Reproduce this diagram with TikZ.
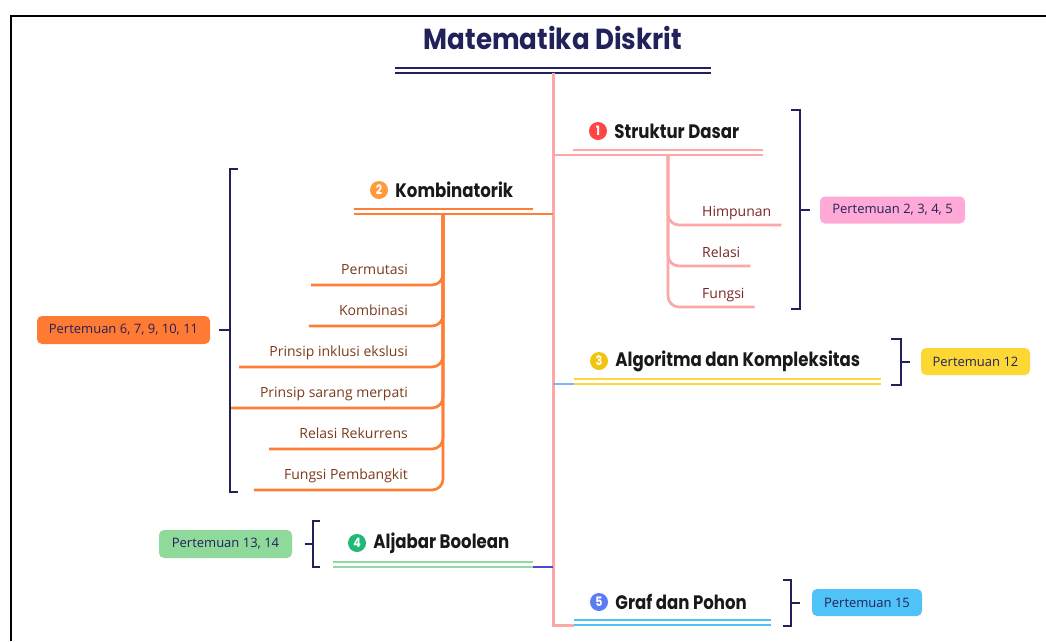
\documentclass[tikz,border=0pt]{standalone}
\usepackage{fontspec}
\setmainfont{Open Sans}
\newfontfamily\headfont{Poppins}[FakeStretch=0.85]
\newfontfamily\titlefont{Poppins}[FakeStretch=0.9]
\usetikzlibrary{positioning}

\definecolor{navy}{HTML}{22225A}
\definecolor{trunkpink}{HTML}{FBA8A6}
\definecolor{darkred}{HTML}{7A2626}
\definecolor{brown}{HTML}{7B3A1C}
\definecolor{orangeline}{HTML}{FF7D35}
\definecolor{yellowline}{HTML}{F9D840}
\definecolor{greenline}{HTML}{93DA9E}
\definecolor{blueline}{HTML}{4FC1F3}
\definecolor{linkblue}{HTML}{82B2FF}
\definecolor{linkviolet}{HTML}{4A4AD0}
\definecolor{numred}{HTML}{FF4545}
\definecolor{numorange}{HTML}{FF9B3D}
\definecolor{numyellow}{HTML}{F1C40F}
\definecolor{numgreen}{HTML}{1DB975}
\definecolor{numblue}{HTML}{5A7CF4}
\definecolor{tagpink}{HTML}{FFAAD6}
\definecolor{tagorange}{HTML}{FF7A33}
\definecolor{tagyellow}{HTML}{FDD835}
\definecolor{taggreen}{HTML}{8FD99B}
\definecolor{tagblue}{HTML}{4FC3F7}

\begin{document}
\begin{tikzpicture}[
    x=1pt, y=-1pt,
    title/.style={font=\titlefont\bfseries\fontsize{29}{31}\selectfont, text=navy},
    head/.style={font=\headfont\bfseries\fontsize{19.5}{22}\selectfont, text=black!90, inner sep=0pt},
    numdot/.style={circle, inner sep=0pt, minimum size=18pt, text=white,
        font=\headfont\bfseries\fontsize{13}{13}\selectfont},
    item/.style={font=\fontsize{14}{16}\selectfont, inner ysep=5pt,
        text height=10pt, text depth=3pt},
    tag/.style={rectangle, rounded corners=5pt, minimum height=27pt,
        text=navy, font=\fontsize{13}{15}\selectfont},
    bracket/.style={draw=navy, line width=2pt},
    branch/.style={line width=2.7pt},
    twig/.style={line width=2.7pt, rounded corners=11pt}
]
\useasboundingbox (0,0) rectangle (1046,641);

% frame
\draw[line width=2.5pt] (1046,16) -- (11,16) -- (11,641);

% Title
\node[title] (title) at (553,38) {Matematika Diskrit};
\draw[navy, line width=2.5pt] (395,68) -- (711,68);
\draw[navy, line width=2.5pt] (395,73) -- (711,73);

% trunk
\coordinate (root) at (553,73);
\coordinate (rootend) at (553,625);
\draw[trunkpink, line width=3pt] (root) -- (rootend) -- (574,625);

% 1 Struktur Dasar
\node[numdot, fill=numred] (n1) at (598,131) {1};
\node[head, right=7pt of n1] (sd) {Struktur Dasar};
\coordinate (sdfork) at (668,155);
\draw[branch, trunkpink] (573,150) -- (763,150);
\draw[branch, trunkpink] (root |- sdfork) -- (763,155);
\node[item, text=darkred, anchor=south west, inner xsep=10pt] (himp) at (692,225) {Himpunan};
\node[item, text=darkred, anchor=south west, inner xsep=10pt] (rel) at (692,266) {Relasi};
\node[item, text=darkred, anchor=south west, inner xsep=10pt] (fung) at (692,307) {Fungsi};
\foreach \n in {himp, rel, fung}
    \draw[twig, trunkpink] (sdfork) |- (\n.south east);
\draw[bracket] (791,110) -- (800,110) -- (800,309) -- (791,309);
\node[tag, fill=tagpink, minimum width=145pt] (p1) at (892.5,210) {Pertemuan 2, 3, 4, 5};
\draw[bracket] (800,210) -- ([xshift=-10pt]p1.west);

% 2 Kombinatorik
\node[numdot, fill=numorange] (n2) at (379,190) {2};
\node[head, right=7pt of n2] (kb) {Kombinatorik};
\coordinate (kbfork) at (443,214);
\draw[branch, orangeline] (354,209) -- (533,209);
\draw[branch, orangeline] (354,214) -- (root |- kbfork);
\node[item, text=brown, anchor=south east, inner xsep=30pt, inner ysep=7pt] (perm) at (438,285) {Permutasi};
\node[item, text=brown, anchor=south east, inner xsep=30pt, inner ysep=7pt] (komb) at (438,326) {Kombinasi};
\node[item, text=brown, anchor=south east, inner xsep=30pt, inner ysep=7pt] (ie) at (438,367) {Prinsip inklusi ekslusi};
\node[item, text=brown, anchor=south east, inner xsep=30pt, inner ysep=7pt] (sm) at (438,408) {Prinsip sarang merpati};
\node[item, text=brown, anchor=south east, inner xsep=30pt, inner ysep=7pt] (rr) at (438,449) {Relasi Rekurrens};
\node[item, text=brown, anchor=south east, inner xsep=30pt, inner ysep=7pt] (fp) at (438,490) {Fungsi Pembangkit};
\foreach \n in {perm, komb, ie, sm, rr, fp}
    \draw[twig, orangeline] (kbfork) |- (\n.south west);
\draw[bracket] (238,169) -- (230,169) -- (230,492) -- (238,492);
\node[tag, fill=tagorange, minimum width=173pt, minimum height=28pt] (p2) at (123.5,330) {Pertemuan 6, 7, 9, 10, 11};
\draw[bracket] (230,330) -- ([xshift=9pt]p2.east);

% 3 Algoritma dan Kompleksitas
\node[numdot, fill=numyellow] (n3) at (599,361) {3};
\node[head, right=7pt of n3] (ak) {Algoritma dan Kompleksitas};
\draw[branch, yellowline] (574,379) -- (881,379);
\draw[branch, yellowline] (574,384) -- (881,384);
\draw[branch, linkblue] (root |- 0,384) -- (574,384);
\draw[bracket] (891,339) -- (901,339) -- (901,385) -- (891,385);
\node[tag, fill=tagyellow, minimum width=109pt] (p3) at (975.5,361.5) {Pertemuan 12};
\draw[bracket] (901,361.5) -- ([xshift=-11pt]p3.west);

% 4 Aljabar Boolean
\node[numdot, fill=numgreen] (n4) at (357,543) {4};
\node[head, right=7pt of n4] (ab) {Aljabar Boolean};
\draw[branch, greenline] (333,562) -- (533,562);
\draw[branch, greenline] (333,567) -- (533,567);
\draw[branch, linkviolet] (533,567) -- (root |- 0,567);
\draw[bracket] (320,521) -- (313,521) -- (313,567) -- (320,567);
\node[tag, fill=taggreen, minimum width=133pt, minimum height=28pt] (p4) at (225.5,544) {Pertemuan 13, 14};
\draw[bracket] (313,544) -- ([xshift=13pt]p4.east);

% 5 Graf dan Pohon
\node[numdot, fill=numblue] (n5) at (599,602) {5};
\node[head, right=7pt of n5] (gp) {Graf dan Pohon};
\draw[branch, blueline] (574,620) -- (771,620);
\draw[branch, blueline] (574,625) -- (771,625);
\draw[bracket] (783,580) -- (791,580) -- (791,626) -- (783,626);
\node[tag, fill=tagblue, minimum width=110pt] (p5) at (867,602.5) {Pertemuan 15};
\draw[bracket] (791,602.5) -- ([xshift=-12pt]p5.west);

\end{tikzpicture}
\end{document}
